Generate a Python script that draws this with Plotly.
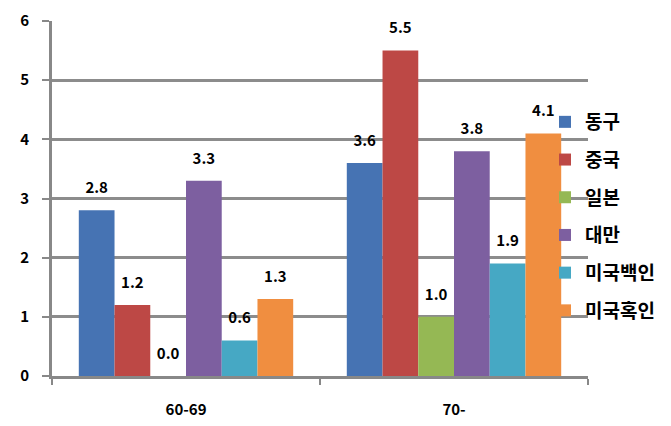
import plotly.graph_objects as go

categories = ["60-69", "70-"]
series_names = ["동구", "중국", "일본", "대만", "미국백인", "미국혹인"]
series_values = [
    [2.8, 3.6],
    [1.2, 5.5],
    [0.0, 1.0],
    [3.3, 3.8],
    [0.6, 1.9],
    [1.3, 4.1],
]
colors = ["#4673B3", "#BD4845", "#95B854", "#7D5FA0", "#46A8C4", "#F08E40"]
y_ticks = [0, 1, 2, 3, 4, 5, 6]

FONT = "Noto Sans CJK KR"
L, R, T, B = 52, 83, 21, 50
W, H = 671, 426
PW, PH = W - L - R, H - T - B

fig = go.Figure()
for i, (name, vals) in enumerate(zip(series_names, series_values)):
    fig.add_trace(go.Bar(
        x=categories, y=vals, name=name,
        marker=dict(color=colors[i], line=dict(width=0)),
        offsetgroup=str(i), legendgroup=str(i),
        hoverinfo="skip",
    ))
for i, vals in enumerate(series_values):
    fig.add_trace(go.Scatter(
        x=categories, y=vals, mode="markers+text",
        text=[f"{v:.1f}" for v in vals], textposition="top center",
        textfont=dict(family=FONT, size=15, color="#000000", weight="bold"),
        marker=dict(size=20, opacity=0),
        offsetgroup=str(i), showlegend=False, hoverinfo="skip",
    ))

fig.update_layout(
    width=W, height=H,
    margin=dict(l=L, r=R, t=T, b=B, autoexpand=False),
    paper_bgcolor="white", plot_bgcolor="white",
    barmode="group", bargap=0.2, bargroupgap=0,
    scattermode="group", scattergap=0.2,
    font=dict(family=FONT, color="#000000"),
    showlegend=True,
    legend=dict(
        x=(545 - L) / PW, y=1 - (103 - T) / PH, xanchor="left", yanchor="top",
        bgcolor="rgba(0,0,0,0)", borderwidth=0,
        font=dict(family=FONT, size=19, color="#000000", weight="bold"),
        tracegroupgap=10, traceorder="grouped",
    ),
    xaxis=dict(
        type="category", showgrid=False, automargin=False,
        showline=True, linecolor="#888888", linewidth=3,
        ticks="outside", tickson="boundaries", ticklen=6, tickcolor="#888888", tickwidth=2,
        tickfont=dict(family=FONT, size=15, color="#000000", weight="bold"),
        ticklabelstandoff=18,
    ),
    yaxis=dict(
        range=[0, 6], tickvals=y_ticks, automargin=False,
        showgrid=True, gridcolor="#8C8C8C", gridwidth=3,
        showline=True, linecolor="#888888", linewidth=3,
        ticks="outside", ticklen=7, tickcolor="#888888", tickwidth=2,
        tickfont=dict(family=FONT, size=15, color="#000000", weight="bold"),
        ticklabelstandoff=10, zeroline=False,
    ),
)

fig.write_html("out.html")
